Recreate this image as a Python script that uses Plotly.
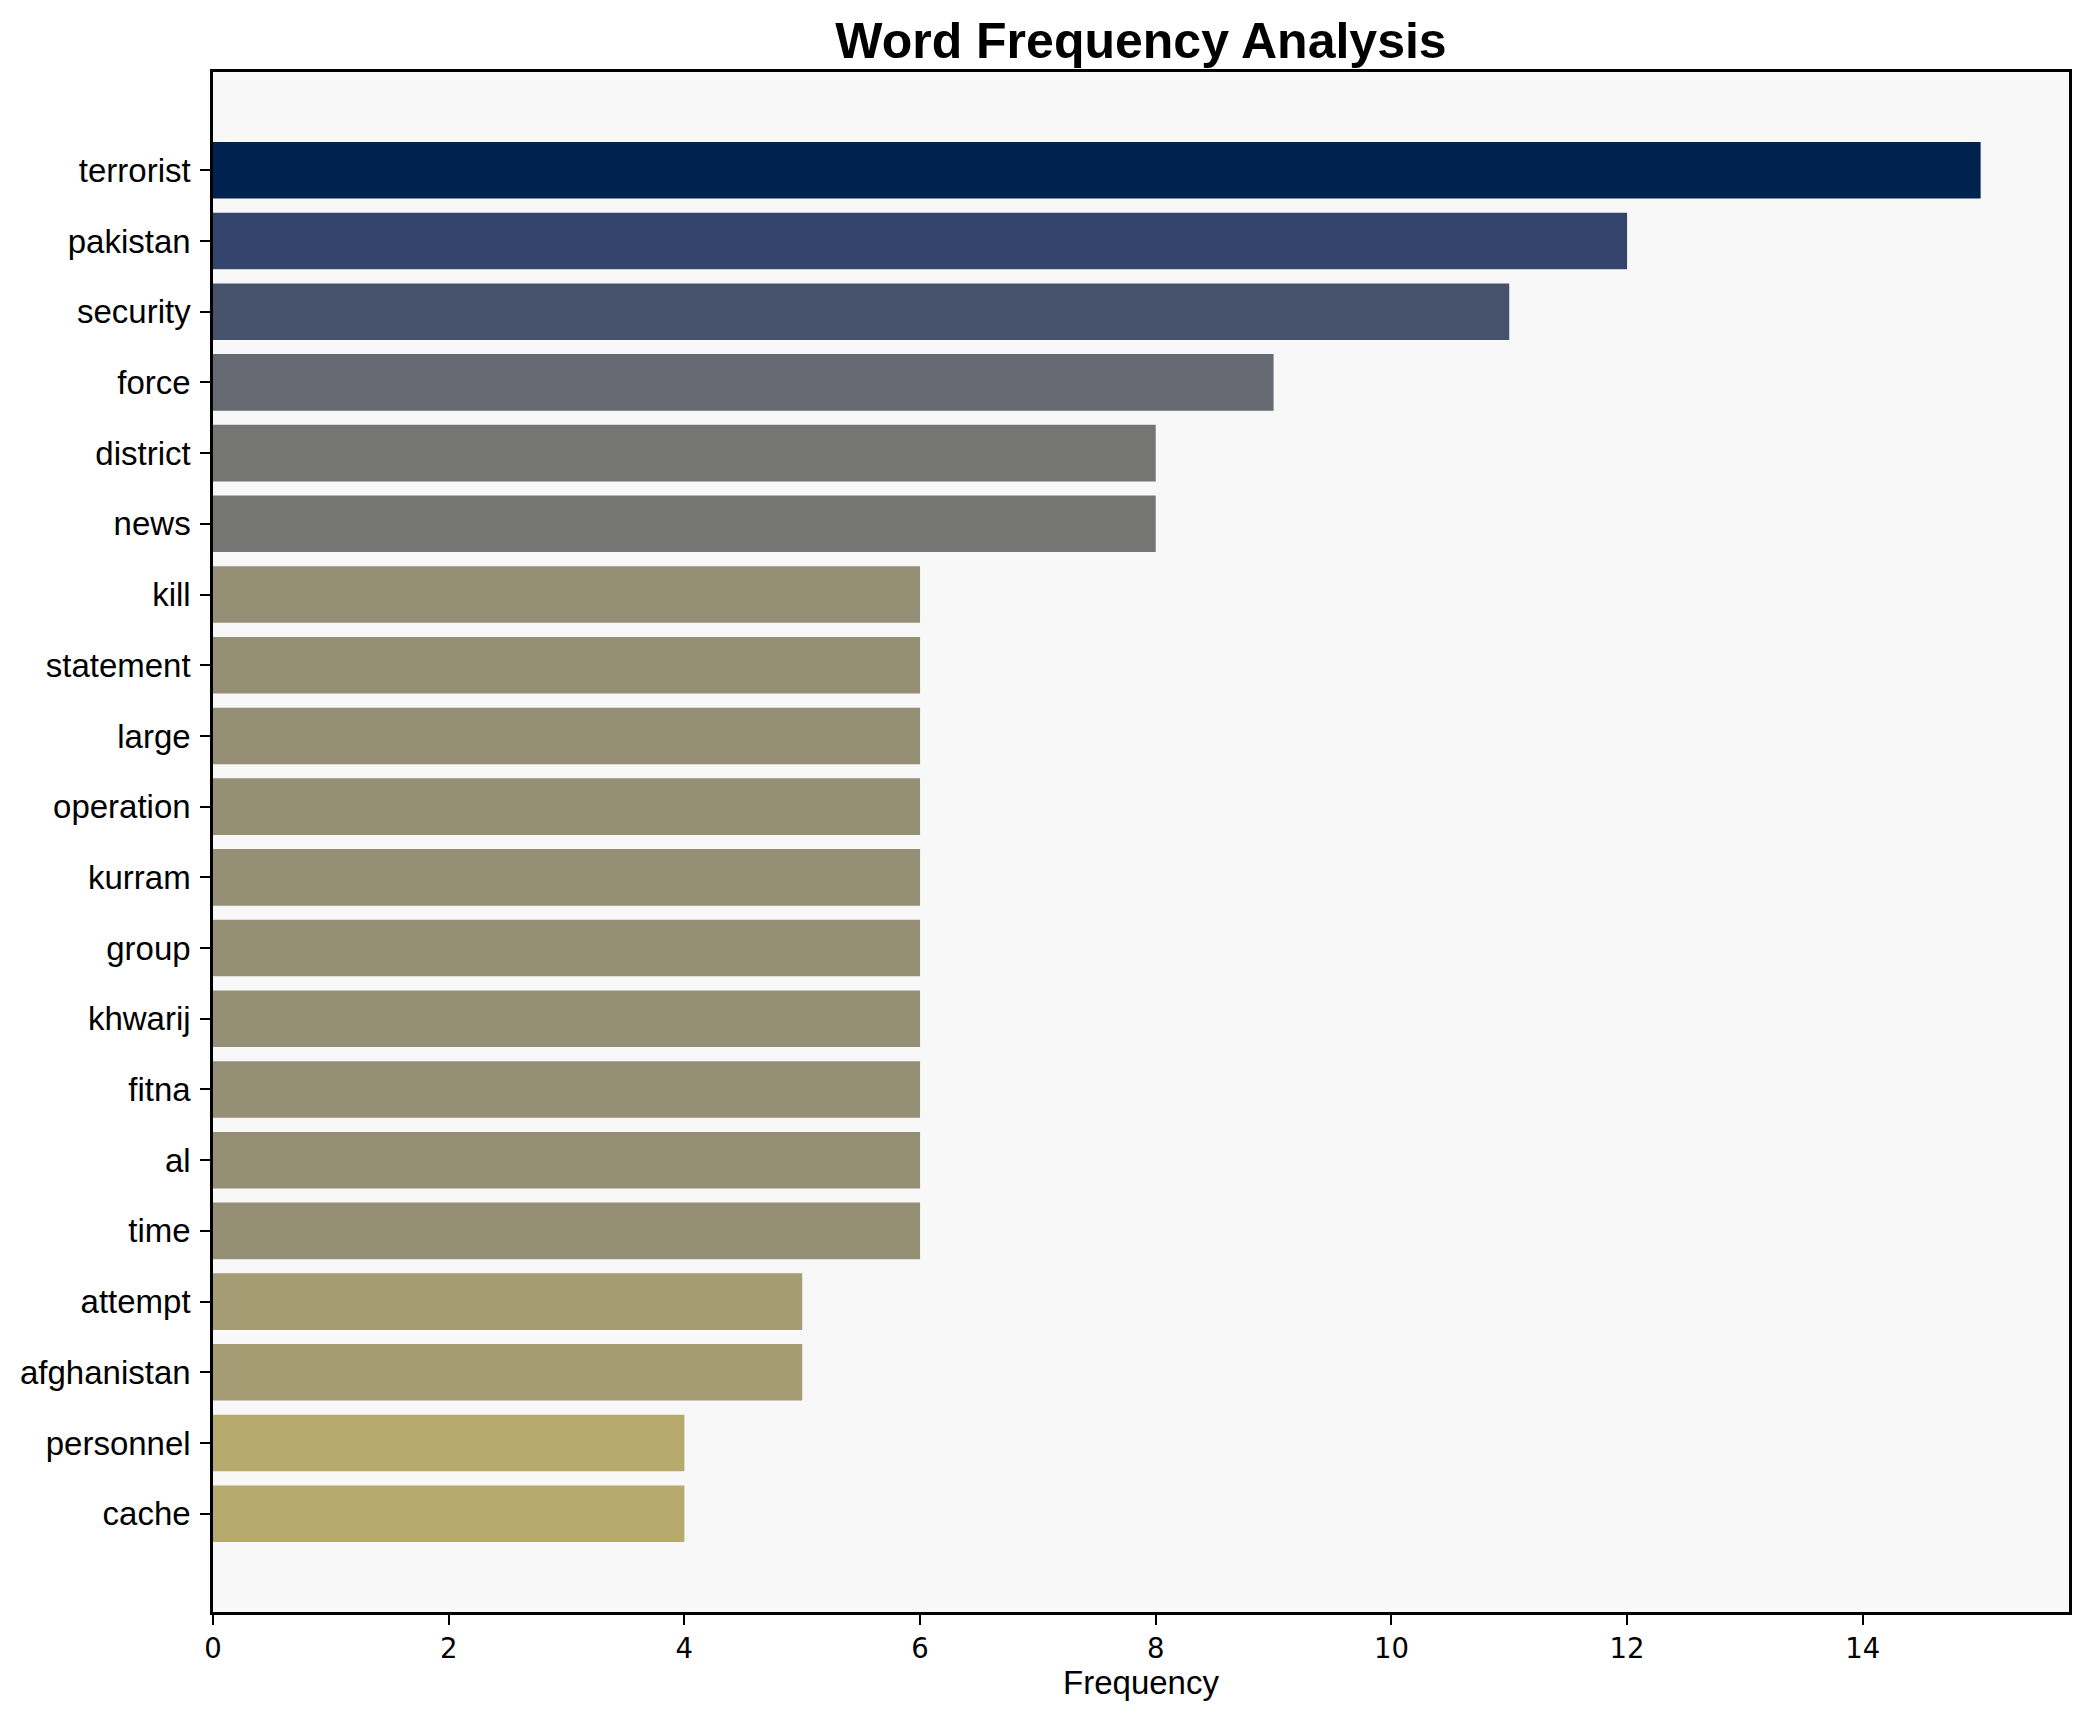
import plotly.graph_objects as go

words = ["terrorist", "pakistan", "security", "force", "district", "news", "kill",
         "statement", "large", "operation", "kurram", "group", "khwarij", "fitna",
         "al", "time", "attempt", "afghanistan", "personnel", "cache"]
counts = [15, 12, 11, 9, 8, 8, 6, 6, 6, 6, 6, 6, 6, 6, 6, 6, 5, 5, 4, 4]
x_ticks = [0, 2, 4, 6, 8, 10, 12, 14]

max_count = max(counts)
color_vals = [1 - c / max_count for c in counts]

fig = go.Figure(go.Bar(
    x=counts,
    y=words,
    orientation="h",
    marker=dict(color=color_vals, colorscale="Cividis", cmin=0, cmax=1,
                line=dict(width=0)),
    showlegend=False,
))

W, H = 2076, 1706
fig.update_layout(
    width=W, height=H,
    margin=dict(l=204, r=12, t=64, b=102),
    paper_bgcolor="white",
    plot_bgcolor="#f8f8f8",
    bargap=0.2,
    title=dict(text="<b>Word Frequency Analysis</b>",
               font=dict(family="Liberation Sans, Arial", size=50, color="black"),
               x=0.5, xanchor="center", xref="paper",
               y=1 - 50 / H, yanchor="bottom", yref="container"),
    xaxis=dict(range=[0, 15.75], tickvals=x_ticks, ticks="outside", ticklen=10,
               tickwidth=2.2, tickcolor="black", showgrid=False, zeroline=False,
               showline=True, linecolor="black", linewidth=2.5, mirror=True,
               tickfont=dict(family="DejaVu Sans", size=27.5, color="black"),
               title=dict(text="Frequency",
                          font=dict(family="Liberation Sans, Arial", size=33, color="black"),
                          standoff=8)),
    yaxis=dict(type="category", categoryorder="array", categoryarray=words,
               range=[20.39, -1.39], ticks="outside", ticklen=10, tickwidth=2.2,
               tickcolor="black", showgrid=False, zeroline=False,
               showline=True, linecolor="black", linewidth=2.5, mirror=True,
               ticklabelstandoff=3,
               tickfont=dict(family="Liberation Sans, Arial", size=33, color="black")),
)

fig.write_html("out.html")
